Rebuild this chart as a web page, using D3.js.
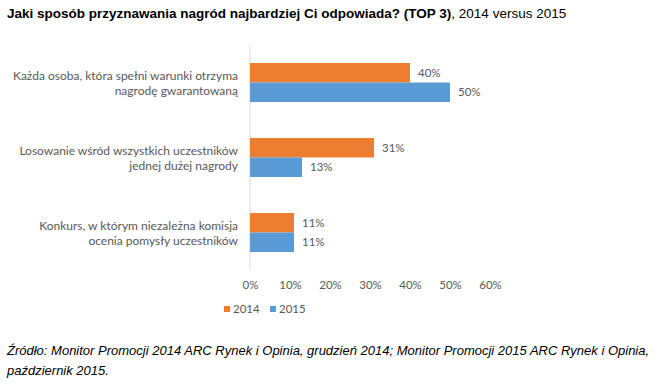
<!DOCTYPE html>
<html lang="pl">
<head>
    <meta charset="UTF-8">
    <title>Jaki sposób przyznawania nagród</title>
    <script src="https://d3js.org/d3.v7.min.js"></script>
    <style>
        body { margin: 0; background: #fff; }
        .chart text { font-family: Lato, "Open Sans", sans-serif; fill: #595959; }
        .chart .title, .chart .source { font-family: "Liberation Sans", Arial, sans-serif; fill: #000; }
    </style>
</head>
<body>
    <div class="chart"></div>

    <script>
        const categories = [
            ["Każda osoba, która spełni warunki otrzyma", "nagrodę gwarantowaną"],
            ["Losowanie wśród wszystkich uczestników", "jednej dużej nagrody"],
            ["Konkurs, w którym niezależna komisja", "ocenia pomysły uczestników"]
        ];
        const series = ["2014", "2015"];
        const values2014 = [40, 31, 11];
        const values2015 = [50, 13, 11];
        const xTicks = [0, 10, 20, 30, 40, 50, 60];
        const colors = ["#ED7D31", "#5B9BD5"];

        const svgWidth = 655;
        const svgHeight = 384;

        const svg = d3.select('.chart')
            .append('svg')
            .attr('width', svgWidth)
            .attr('height', svgHeight);

        // Title
        const title = svg.append('text')
            .attr('class', 'title')
            .attr('x', 7)
            .attr('y', 18)
            .style('font-size', '13.5px');
        title.append('tspan').attr('font-weight', 'bold')
            .text('Jaki sposób przyznawania nagród najbardziej Ci odpowiada? (TOP 3)');
        title.append('tspan').text(', 2014 versus 2015');

        // Scales
        const xScale = d3.scaleLinear()
            .domain([0, 60])
            .range([250, 490]);

        const yScale = d3.scaleBand()
            .domain(d3.range(categories.length))
            .range([45, 270])
            .paddingInner(0.48)
            .paddingOuter(0.24);

        const inner = d3.scaleBand()
            .domain(series)
            .range([0, yScale.bandwidth()]);

        // Axis line
        svg.append('line')
            .attr('x1', xScale(0)).attr('x2', xScale(0))
            .attr('y1', 45).attr('y2', 270)
            .attr('stroke', '#d9d9d9');

        // Tick labels
        const xAxis = svg.append('g')
            .attr('transform', 'translate(0,270)')
            .call(d3.axisBottom(xScale).tickValues(xTicks).tickFormat(d => d + '%').tickSize(0).tickPadding(11));
        xAxis.select('.domain').remove();
        xAxis.selectAll('text').style('font-size', '11.5px').attr('fill', '#595959');

        // Bars
        const data = series.map((s, si) => ({
            key: s,
            values: si === 0 ? values2014 : values2015
        }));

        data.forEach((s, si) => {
            const g = svg.append('g');
            g.selectAll('rect')
                .data(s.values)
                .enter().append('rect')
                .attr('x', xScale(0))
                .attr('y', (d, i) => yScale(i) + inner(s.key))
                .attr('width', d => xScale(d) - xScale(0))
                .attr('height', inner.bandwidth())
                .attr('fill', colors[si]);

            g.selectAll('text')
                .data(s.values)
                .enter().append('text')
                .attr('x', d => xScale(d) + 8)
                .attr('y', (d, i) => yScale(i) + inner(s.key) + inner.bandwidth() / 2)
                .attr('dy', '0.35em')
                .style('font-size', '11.5px')
                .text(d => d + '%');
        });

        // Category labels
        categories.forEach((lines, i) => {
            const cy = yScale(i) + yScale.bandwidth() / 2;
            const t = svg.append('text')
                .attr('text-anchor', 'end')
                .style('font-size', '12px');
            lines.forEach((line, li) => {
                t.append('tspan')
                    .attr('x', 238)
                    .attr('y', cy - 3 + li * 15)
                    .text(line);
            });
        });

        // Legend
        const legend = svg.append('g').attr('transform', 'translate(224,313)');
        series.forEach((s, si) => {
            const lg = legend.append('g').attr('transform', `translate(${si * 46},0)`);
            lg.append('rect').attr('x', 0).attr('y', -7).attr('width', 6).attr('height', 6).attr('fill', colors[si]);
            lg.append('text').attr('x', 9).attr('y', 0).style('font-size', '11.5px').text(s);
        });

        // Source
        const source = svg.append('text')
            .attr('class', 'source')
            .style('font-size', '13px')
            .style('font-style', 'italic');
        source.append('tspan').attr('x', 7).attr('y', 355)
            .text('Źródło: Monitor Promocji 2014 ARC Rynek i Opinia, grudzień 2014; Monitor Promocji 2015 ARC Rynek i Opinia,');
        source.append('tspan').attr('x', 7).attr('y', 375)
            .text('październik 2015.');
    </script>
</body>
</html>
